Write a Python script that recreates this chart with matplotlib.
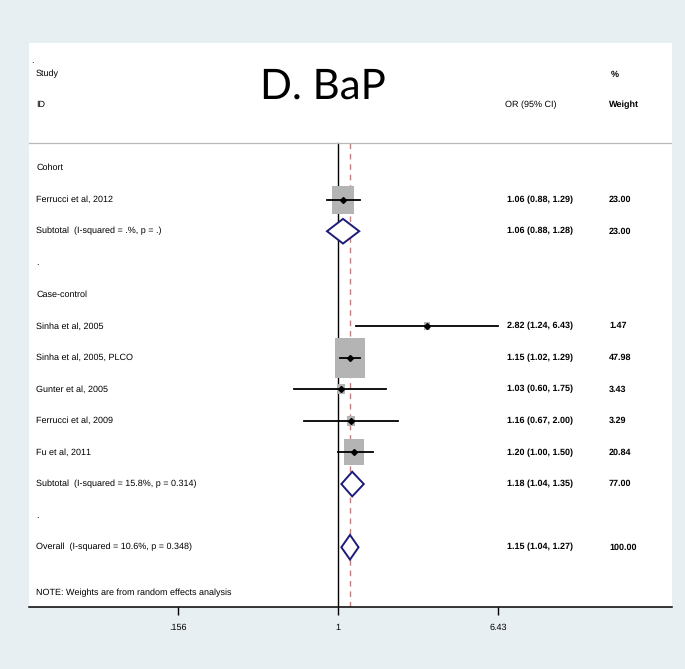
import numpy as np
import matplotlib
matplotlib.use("Agg")
import matplotlib.pyplot as plt
from matplotlib.path import Path
from matplotlib.transforms import blended_transform_factory

plt.rcParams["text.hinting"] = "no_hinting"
plt.rcParams["text.hinting_factor"] = 1

# ------------------
# Data (one entry per row, top to bottom)
# ------------------
labels = ["Cohort", "Ferrucci et al, 2012", "Subtotal  (I-squared = .%, p = .)", ".",
          "Case-control", "Sinha et al, 2005", "Sinha et al, 2005, PLCO",
          "Gunter et al, 2005", "Ferrucci et al, 2009", "Fu et al, 2011",
          "Subtotal  (I-squared = 15.8%, p = 0.314)", ".",
          "Overall  (I-squared = 10.6%, p = 0.348)"]
kind = ["head", "study", "sub", "blank", "head", "study", "study", "study",
        "study", "study", "sub", "blank", "sub"]
est = [None, 1.06, 1.06, None, None, 2.82, 1.15, 1.03, 1.16, 1.20, 1.18, None, 1.15]
lo = [None, 0.88, 0.88, None, None, 1.24, 1.02, 0.60, 0.67, 1.00, 1.04, None, 1.04]
hi = [None, 1.29, 1.28, None, None, 6.43, 1.29, 1.75, 2.00, 1.50, 1.35, None, 1.27]
weight = [None, 23.00, 23.00, None, None, 1.47, 47.98, 3.43, 3.29, 20.84, 77.00, None, 100.00]

overall_est = 1.15
tick_vals = [0.156, 1, 6.43]
tick_labels = [".156", "1", "6.43"]

small = ["Liberation Sans", "DejaVu Sans"]
bg = "#e8eff2"
navy = "#1c1c78"

fig = plt.figure(figsize=(6.85, 6.69), dpi=100, facecolor=bg)
ax = fig.add_axes([29 / 685, 1 - 607 / 669, 643 / 685, (607 - 42.7) / 669])
ax.set_facecolor("white")
ax.set_xscale("log")
ax.set_xlim(np.exp(-3.593), np.exp(3.884))
ax.set_ylim(13.89, -3.965)

tr = blended_transform_factory(ax.transAxes, ax.transData)
txt_kw = dict(fontsize=6.6, family=small, color="black", va="center", transform=tr)

# header
ax.text(0.003, -3.4, ".", **txt_kw)
ax.text(0.011, -2.97, "Study", **txt_kw)
ax.text(0.011, -1.99, "ID", **txt_kw)
ax.text(0.740, -1.99, "OR (95% CI)", **txt_kw)
ax.text(0.905, -2.97, "%", fontweight="bold", **txt_kw)
ax.text(0.902, -1.99, "Weight", fontweight="bold", **txt_kw)
ax.axhline(-0.79, color="#b8b8b8", lw=0.9)

# reference lines
ax.plot([1, 1], [-0.79, 13.89], color="black", lw=1.0, zorder=1)
ax.plot([overall_est, overall_est], [-0.79, 13.89], color="#c07f80", lw=1.0,
        dashes=(4, 3.5), zorder=1)

# box marker, a bit taller than wide like the original
box = Path([(-1, -1.3), (1, -1.3), (1, 1.3), (-1, 1.3), (-1, -1.3)],
           [Path.MOVETO, Path.LINETO, Path.LINETO, Path.LINETO, Path.CLOSEPOLY])

for i, k in enumerate(kind):
    ax.text(0.011, i, labels[i], **txt_kw)
    if k == "study":
        ax.scatter([est[i]], [i], marker=box, s=17.3 * weight[i], color="#b4b4b4",
                   linewidths=0, zorder=2)
        ax.plot([lo[i], hi[i]], [i, i], color="black", lw=1.3, zorder=3)
        ax.plot([est[i]], [i], marker="D", ms=3.0, color="black", zorder=4)
    elif k == "sub":
        ax.fill([lo[i], est[i], hi[i], est[i], lo[i]], [i, i - 0.39, i, i + 0.39, i],
                facecolor="white", edgecolor=navy, lw=1.4, zorder=3)
    if est[i] is not None:
        ax.text(0.7434, i, f"{est[i]:.2f} ({lo[i]:.2f}, {hi[i]:.2f})",
                fontweight="bold", **txt_kw)
        ax.text(0.902, i, f"{weight[i]:.2f}", fontweight="bold", **txt_kw)

ax.text(0.011, 13.45, "NOTE: Weights are from random effects analysis", **txt_kw)

# axis
for s in ["top", "left", "right"]:
    ax.spines[s].set_visible(False)
ax.spines["bottom"].set_linewidth(1.1)
ax.set_yticks([])
ax.set_xticks(tick_vals)
ax.set_xticklabels(tick_labels, family=small, fontsize=6.8, color="black")
ax.minorticks_off()
ax.tick_params(axis="x", length=6, width=1.0, pad=6)

fig.text(323 / 685, 1 - 87 / 669, "D. BaP", family=["Lato", "DejaVu Sans"],
         fontsize=30, ha="center", va="center")

fig.savefig("out.png", dpi=100, facecolor=bg)
